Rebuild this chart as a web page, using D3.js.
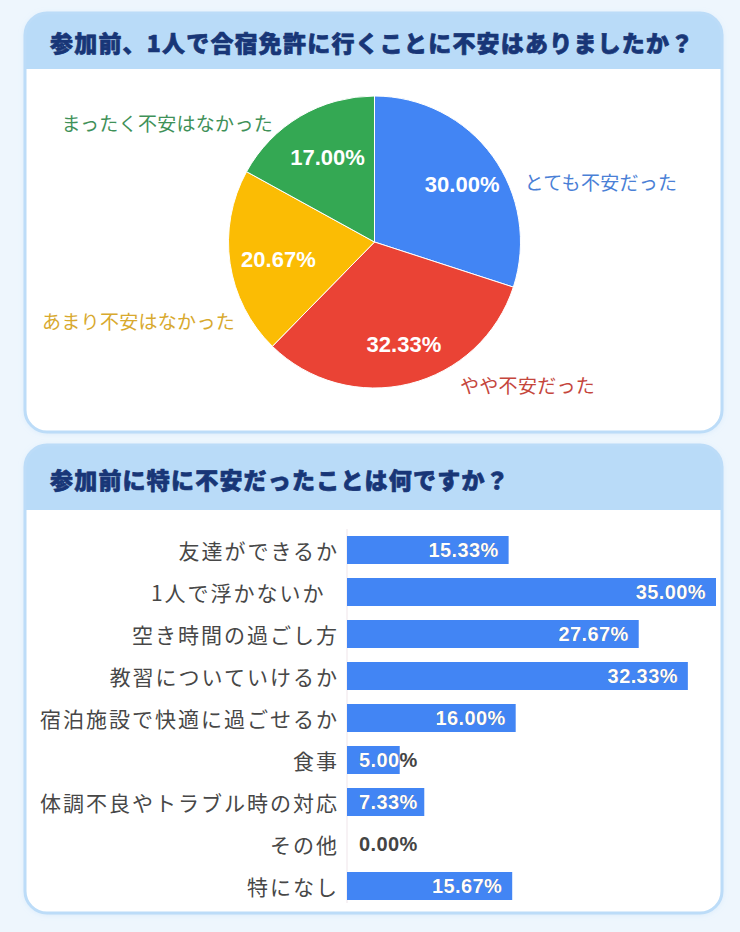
<!DOCTYPE html>
<html><head><meta charset="utf-8">
<script src="https://cdn.jsdelivr.net/npm/d3@7"></script>
<style>
html,body{margin:0;padding:0;background:#eef6fd;}
svg{display:block;}
</style></head>
<body>
<svg id="c" width="740" height="932"></svg>
<script>
// ---- data ----
const pieTitle = "参加前、1人で合宿免許に行くことに不安はありましたか？";
const pieCategories = ["とても不安だった", "やや不安だった", "あまり不安はなかった", "まったく不安はなかった"];
const pieValues = [30.00, 32.33, 20.67, 17.00];
const pieColors = ["#4285f4", "#ea4335", "#fbbc04", "#34a853"];
const pieLabelColors = ["#4a80d6", "#c5463c", "#d8a92e", "#3f9159"];

const barTitle = "参加前に特に不安だったことは何ですか？";
const barCategories = ["友達ができるか", "1人で浮かないか  ", "空き時間の過ごし方", "教習についていけるか", "宿泊施設で快適に過ごせるか", "食事", "体調不良やトラブル時の対応", "その他", "特になし"];
const barValues = [15.33, 35.00, 27.67, 32.33, 16.00, 5.00, 7.33, 0.00, 15.67];

// ---- drawing ----
const svg = d3.select("#c");
const defs = svg.append("defs");
const jp = "'Noto Sans CJK JP','Noto Sans',sans-serif";
const num = "'Liberation Sans',Arial,sans-serif";

const f = defs.append("filter").attr("id","glow").attr("x","-5%").attr("y","-5%").attr("width","110%").attr("height","110%");
f.append("feDropShadow").attr("dx",0).attr("dy",1).attr("stdDeviation",3).attr("flood-color","#9ccbf3").attr("flood-opacity",0.35);

function card(id, x, y, w, h, headH, title) {
  const g = svg.append("g");
  defs.append("clipPath").attr("id", id).append("rect")
    .attr("x", x).attr("y", y).attr("width", w).attr("height", h).attr("rx", 22);
  g.append("rect").attr("x", x).attr("y", y).attr("width", w).attr("height", h).attr("rx", 22)
    .attr("fill", "#fff").attr("filter","url(#glow)");
  g.append("rect").attr("x", x).attr("y", y).attr("width", w).attr("height", headH)
    .attr("fill", "#b9dbf8").attr("clip-path", `url(#${id})`);
  g.append("rect").attr("x", x).attr("y", y).attr("width", w).attr("height", h).attr("rx", 22)
    .attr("fill", "none").attr("stroke", "#bcdcf8").attr("stroke-width", 3);
  g.append("text").attr("x", x + 25).attr("y", y + headH / 2 + 1)
    .attr("dominant-baseline", "central")
    .style("font-family", jp).style("font-weight", 900).style("font-size", "23px")
    .style("letter-spacing", "1.2px").attr("fill", "#183677")
    .attr("stroke", "#183677").attr("stroke-width", 0.7).attr("stroke-linejoin", "round")
    .text(title);
  return g;
}

card("cp1", 25, 13, 697, 419, 56, pieTitle);
card("cp2", 25, 445, 697, 468, 65, barTitle);

// ---- pie ----
const cx = 374.5, cy = 242, r = 146;
const pie = d3.pie().sort(null).value(d => d)(pieValues);
const arc = d3.arc().innerRadius(0).outerRadius(r);
const labelArc = d3.arc().innerRadius(r * 0.7).outerRadius(r * 0.7);
const pg = svg.append("g").attr("transform", `translate(${cx},${cy})`);
pg.selectAll("path").data(pie).join("path")
  .attr("d", arc).attr("fill", (d, i) => pieColors[i])
  .attr("stroke", "#fff").attr("stroke-width", 1);
pg.selectAll("text.pct").data(pie).join("text").attr("class","pct")
  .attr("transform", d => { const c = labelArc.centroid(d); return `translate(${c[0] + 5},${c[1] + 3})`; })
  .attr("text-anchor", "middle").attr("dominant-baseline", "central")
  .style("font-family", num).style("font-weight", 700).style("font-size", "22px")
  .attr("fill", "#fff").text(d => d.data.toFixed(2) + "%");

// outside category labels (layout offsets relative to pie centre)
const legendLayout = [
  {dx: 150, dy: -61, anchor: "start"},
  {dx: 85.5, dy: 142, anchor: "start"},
  {dx: -139.5, dy: 78, anchor: "end"},
  {dx: -101.5, dy: -120, anchor: "end"}
];
pg.selectAll("text.cat").data(pieCategories).join("text").attr("class","cat")
  .attr("x", (d, i) => legendLayout[i].dx).attr("y", (d, i) => legendLayout[i].dy)
  .attr("text-anchor", (d, i) => legendLayout[i].anchor).attr("dominant-baseline", "central")
  .style("font-family", jp).style("font-size", "19px").style("letter-spacing","0.3px")
  .attr("fill", (d, i) => pieLabelColors[i]).text(d => d);

// ---- bars ----
const x = d3.scaleLinear().domain([0, 35]).range([347, 716]);
const y = d3.scaleBand().domain(barCategories).range([529, 907]).paddingInner(1/3).paddingOuter(1/6);
const bg = svg.append("g");
bg.append("line").attr("x1", x(0)).attr("x2", x(0)).attr("y1", 529).attr("y2", 903)
  .attr("stroke", "#efe5ea").attr("stroke-width", 1);

bg.selectAll("text.lab").data(barCategories).join("text").attr("class","lab")
  .attr("x", 339).attr("y", d => y(d) + y.bandwidth() / 2)
  .attr("text-anchor", "end").attr("dominant-baseline", "central")
  .style("white-space","pre")
  .style("font-family", jp).style("font-size", "21px").style("letter-spacing", "2px")
  .attr("fill", "#474747").text(d => d);

const rows = barCategories.map((c, i) => ({c, v: barValues[i], i}));
bg.selectAll("rect.bar").data(rows).join("rect").attr("class","bar")
  .attr("x", x(0)).attr("y", d => y(d.c)).attr("width", d => x(d.v) - x(0)).attr("height", y.bandwidth())
  .attr("fill", "#4285f4");

rows.forEach(d => {
  const cid = "bc" + d.i;
  defs.append("clipPath").attr("id", cid).append("rect")
    .attr("x", x(0)).attr("y", y(d.c)).attr("width", x(d.v) - x(0)).attr("height", y.bandwidth());
  const yy = y(d.c) + y.bandwidth() / 2;
  const txt = d.v.toFixed(2) + "%";
  const t1 = bg.append("text").attr("y", yy).attr("text-anchor", "end").attr("dominant-baseline", "central")
    .style("font-family", num).style("font-weight", 700).style("font-size", "20px").style("letter-spacing","0.4px")
    .attr("fill", "#444").text(txt);
  const w = t1.node().getComputedTextLength();
  const xe = Math.max(x(d.v) - 10, x(0) + 12 + w);
  t1.attr("x", xe);
  bg.append("text").attr("x", xe).attr("y", yy).attr("text-anchor", "end").attr("dominant-baseline", "central")
    .style("font-family", num).style("font-weight", 700).style("font-size", "20px").style("letter-spacing","0.4px")
    .attr("fill", "#fff").attr("clip-path", `url(#${cid})`).text(txt);
});
</script>
</body></html>
